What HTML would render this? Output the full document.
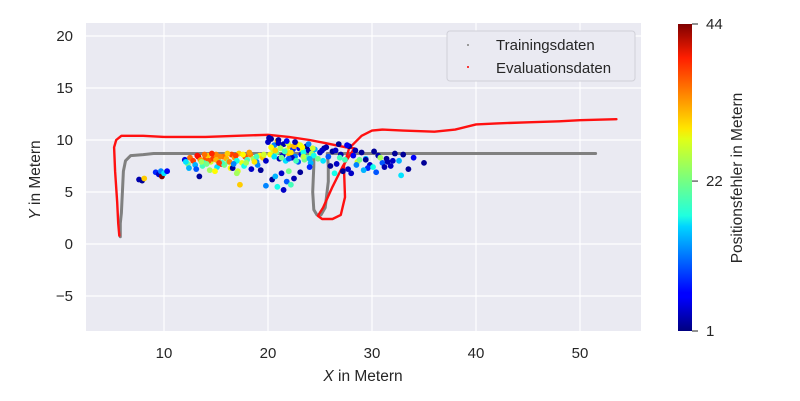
<!DOCTYPE html>
<html><head><meta charset="utf-8"><style>
body{margin:0;background:#fff;}
svg{display:block;font-family:"Liberation Sans","DejaVu Sans",sans-serif;}
</style></head><body>
<svg id="c" width="800" height="401" viewBox="0 0 800 401" xmlns="http://www.w3.org/2000/svg">
<defs>
<linearGradient id="jet" x1="0" y1="1" x2="0" y2="0">
<stop offset="0" stop-color="#00007f"/><stop offset="0.11" stop-color="#0000ff"/><stop offset="0.125" stop-color="#0000ff"/>
<stop offset="0.34" stop-color="#00d4ff"/><stop offset="0.375" stop-color="#1fffe0"/><stop offset="0.5" stop-color="#7dff7a"/>
<stop offset="0.625" stop-color="#e0ff17"/><stop offset="0.66" stop-color="#ffe600"/><stop offset="0.89" stop-color="#ff1e00"/>
<stop offset="1" stop-color="#7f0000"/></linearGradient>
<clipPath id="pc"><rect x="86" y="23" width="555" height="308"/></clipPath>
</defs>
<rect x="86" y="23" width="555" height="308" fill="#EAEAF2"/>
<g id="grid"></g><g id="marks" clip-path="url(#pc)"></g><g id="axes"></g>
<g>
<rect x="447" y="31" width="188" height="50" rx="3" fill="#EAEAF2" stroke="#d0d0d8"/>
<circle cx="468" cy="45" r="1" fill="#808080"/>
<text x="496" y="50" font-size="15" fill="#262626">Trainingsdaten</text>
<circle cx="468" cy="67" r="1" fill="#ff0000"/>
<text x="496" y="73" font-size="15" fill="#262626">Evaluationsdaten</text>
</g>
<rect x="678" y="24" width="14" height="307" fill="url(#jet)"/>
<g id="cb"></g>
<text x="363" y="381" font-size="15.5" fill="#262626" text-anchor="middle"><tspan font-style="italic">X</tspan> in Metern</text>
<text transform="translate(40,180) rotate(-90)" font-size="15.5" fill="#262626" text-anchor="middle"><tspan font-style="italic">Y</tspan> in Metern</text>
<text transform="translate(742,178) rotate(-90)" font-size="15.5" fill="#262626" text-anchor="middle">Positionsfehler in Metern</text>
</svg>
<script>
const xTicks=[10,20,30,40,50];
const yTicks=[-5,0,5,10,15,20];
const cbTicks=[1,22,44];
const trainX=[5.8,5.8,5.9,6.0,6.1,6.3,6.8,8,9,15,24.4,24.4,24.3,24.4,24.7,25.1,25.5,25.8,25.8,25.7,30,40,51.5];
const trainY=[0.7,2,3,5,7,8.0,8.5,8.6,8.7,8.7,8.7,7.5,5,3.3,2.8,2.8,3.5,6,7.5,8.7,8.7,8.7,8.7];
const evalX=[5.7,5.6,5.5,5.3,5.2,5.4,5.9,8,10,14,17,20,22,24,25.5,26.5,27.5,28.3,27.2,26.2,25.3,24.8,25.2,26.2,27.0,27.4,27.3,27.8,29,30,31,33,36,38,40,42,45,48,50,53.5];
const evalY=[0.8,2,4,7,9.3,10.0,10.4,10.4,10.3,10.3,10.4,10.5,10.3,10.0,9.7,9.5,9.3,9.2,7.5,5.5,3.5,2.7,2.4,2.4,2.8,4.5,7.5,9.2,10.4,10.9,11.0,10.9,10.8,11.0,11.5,11.6,11.7,11.8,11.9,12.0];
const ptsX=[7.6,7.9,8.1,9.2,9.5,9.7,9.8,10.0,10.3,12.0,12.3,12.5,12.8,13.0,13.3,13.5,13.8,14.0,14.2,14.5,14.7,15.0,15.2,15.5,15.7,16.0,16.2,16.5,16.8,17.0,17.2,17.5,17.8,18.0,18.3,18.6,18.9,19.2,19.5,19.8,
12.4,13.1,13.7,14.4,15.1,15.8,16.4,17.1,17.7,18.4,19.0,13.4,14.9,16.6,17.3,12.1,19.3,17.0,
13.2,13.9,14.6,15.4,16.1,16.9,17.6,18.2,18.9,19.6,13.6,14.3,15.0,15.6,16.3,17.0,17.9,18.7,14.1,15.3,16.7,
20.0,20.3,20.6,20.9,21.2,21.5,21.8,22.1,22.4,22.7,23.0,23.3,23.6,23.9,24.2,24.5,20.2,20.8,21.4,22.0,22.6,23.2,23.8,24.4,20.5,21.1,21.7,22.3,22.9,23.5,24.1,20.1,21.0,21.9,22.8,23.7,
20.3,20.7,21.2,21.6,22.2,22.5,23.1,23.4,23.9,24.3,20.6,21.3,22.0,22.7,23.4,24.0,21.0,21.8,22.6,23.3,
20.4,20.9,21.3,21.8,22.2,20.7,22.5,21.5,22.0,19.8,23.1,24.0,
25.0,25.4,25.8,26.2,26.6,27.0,27.4,27.8,28.2,28.6,29.0,29.4,29.8,30.2,30.6,31.0,31.4,31.8,32.2,32.6,33.0,33.5,34.0,35.0,25.6,26.4,27.2,28.0,28.8,29.6,30.4,31.2,32.0,32.8,26.8,27.6,28.4,29.2,30.8,25.2,
25.3,26.0,26.9,27.7,28.5,29.4,30.1,31.5,24.8,26.5];
const ptsY=[6.2,6.1,6.3,6.9,6.7,7.0,6.5,6.8,7.0,8.1,7.7,8.3,8.0,7.6,8.4,8.1,7.8,8.3,8.5,7.9,8.2,8.6,8.0,7.7,8.4,8.2,7.9,8.6,8.3,8.0,8.7,7.8,8.4,8.1,8.6,8.2,7.9,8.5,8.3,8.0,
7.3,7.2,7.5,7.1,7.4,7.6,7.3,7.0,7.5,7.2,7.6,6.5,7.0,7.3,5.7,7.9,7.1,6.8,
8.5,8.6,8.7,8.4,8.7,8.5,8.6,8.8,8.4,8.6,7.9,8.0,8.1,7.8,7.9,8.0,7.8,7.9,7.7,7.8,7.7,
9.8,10.1,9.5,9.9,9.3,9.6,9.0,9.4,9.1,9.5,9.2,8.9,9.3,9.0,8.7,9.1,8.6,8.8,8.5,8.7,8.4,8.6,8.3,8.5,9.0,8.2,8.0,8.3,7.9,8.1,7.8,10.2,10.0,9.7,9.6,9.4,
9.3,9.0,9.2,8.9,8.8,9.4,9.5,8.8,9.6,9.2,8.4,8.3,8.2,8.0,8.4,8.2,9.7,9.9,9.8,9.3,
6.2,5.5,6.8,6.0,5.7,6.5,6.3,5.2,7.0,5.6,6.9,7.4,
8.8,9.2,8.4,8.9,7.7,8.6,8.1,9.4,8.5,7.9,8.8,8.2,7.6,8.9,8.5,7.8,8.2,7.5,8.7,8.0,8.6,7.2,8.3,7.8,9.3,6.8,7.0,6.8,8.1,7.3,6.9,7.4,8.0,6.6,9.6,9.5,9.0,7.1,8.3,9.0,
8.0,7.5,8.3,7.2,7.6,8.1,7.4,7.9,8.2,9.0];
const ptsE=[3,2,30,8,4,12,44,16,6,5,22,34,36,14,40,32,18,35,30,26,36,33,20,38,34,31,22,36,32,18,30,27,35,20,33,24,12,28,30,4,
14,10,20,24,16,22,28,26,18,4,12,2,28,2,30,16,2,24,
38,34,37,33,30,36,28,32,20,26,24,35,31,20,33,18,24,29,22,36,12,
4,2,12,30,28,3,26,30,8,28,6,25,18,4,24,14,28,22,4,30,12,6,20,18,26,3,16,4,10,22,14,3,2,26,30,2,
28,30,24,20,29,31,27,18,12,26,16,22,10,20,25,14,4,6,3,28,
2,18,4,10,20,14,3,4,22,12,2,8,
4,2,10,2,4,3,20,2,6,26,2,14,4,2,3,10,2,4,2,14,2,2,6,2,3,18,2,4,22,8,10,3,4,16,2,6,3,14,24,4,
16,2,20,4,12,2,18,3,22,4];
const NS='http://www.w3.org/2000/svg';
const sx=v=>60+v*10.4, sy=v=>244-v*10.4, sc=e=>331-(e-1)/(44-1)*307;
function jet(t){const r=Math.max(0,Math.min(1,1.5-Math.abs(4*t-3))),g=Math.max(0,Math.min(1,1.5-Math.abs(4*t-2))),b=Math.max(0,Math.min(1,1.5-Math.abs(4*t-1)));return `rgb(${r*255|0},${g*255|0},${b*255|0})`;}
function mk(tag,at,parent){const e=document.createElementNS(NS,tag);for(const k in at)e.setAttribute(k,at[k]);parent.appendChild(e);return e;}
const grid=document.getElementById('grid'),axes=document.getElementById('axes'),marks=document.getElementById('marks'),cb=document.getElementById('cb');
xTicks.forEach(v=>{const l=mk('line',{x1:sx(v),x2:sx(v),y1:23,y2:331,stroke:'#fff','stroke-width':1.2},grid);


const t=mk('text',{x:sx(v),y:358,'font-size':15,fill:'#262626','text-anchor':'middle'},axes);t.textContent=v;

});
yTicks.forEach(v=>{const l=mk('line',{x1:86,x2:641,y1:sy(v),y2:sy(v),stroke:'#fff','stroke-width':1.2},grid);


const t=mk('text',{x:73,y:sy(v)+5,'font-size':15,fill:'#262626','text-anchor':'end'},axes);t.textContent=v<0?'\u2212'+(-v):v;

});
cbTicks.forEach(v=>{const l=mk('line',{x1:692,x2:698,y1:sc(v),y2:sc(v),stroke:'#262626','stroke-width':1},cb);


const t=mk('text',{x:706,y:sc(v)+5,'font-size':15,fill:'#262626'},cb);t.textContent=v;

});
function path(xs,ys,col,name,w){let d='';xs.forEach((x,i)=>{d+=(i?'L':'M')+sx(x).toFixed(1)+','+sy(ys[i]).toFixed(1);});
const p=mk('path',{d:d,fill:'none',stroke:col,'stroke-width':w,'stroke-linejoin':'round','stroke-linecap':'round'},marks);

}
path(trainX,trainY,'#808080','training-path',3);
path(evalX,evalY,'#ff1010','evaluation-path',2.4);
ptsX.forEach((x,i)=>{const c=mk('circle',{cx:sx(x),cy:sy(ptsY[i]),r:2.9,fill:jet((ptsE[i]-1)/43)},marks);

});
</script>
</body></html>
